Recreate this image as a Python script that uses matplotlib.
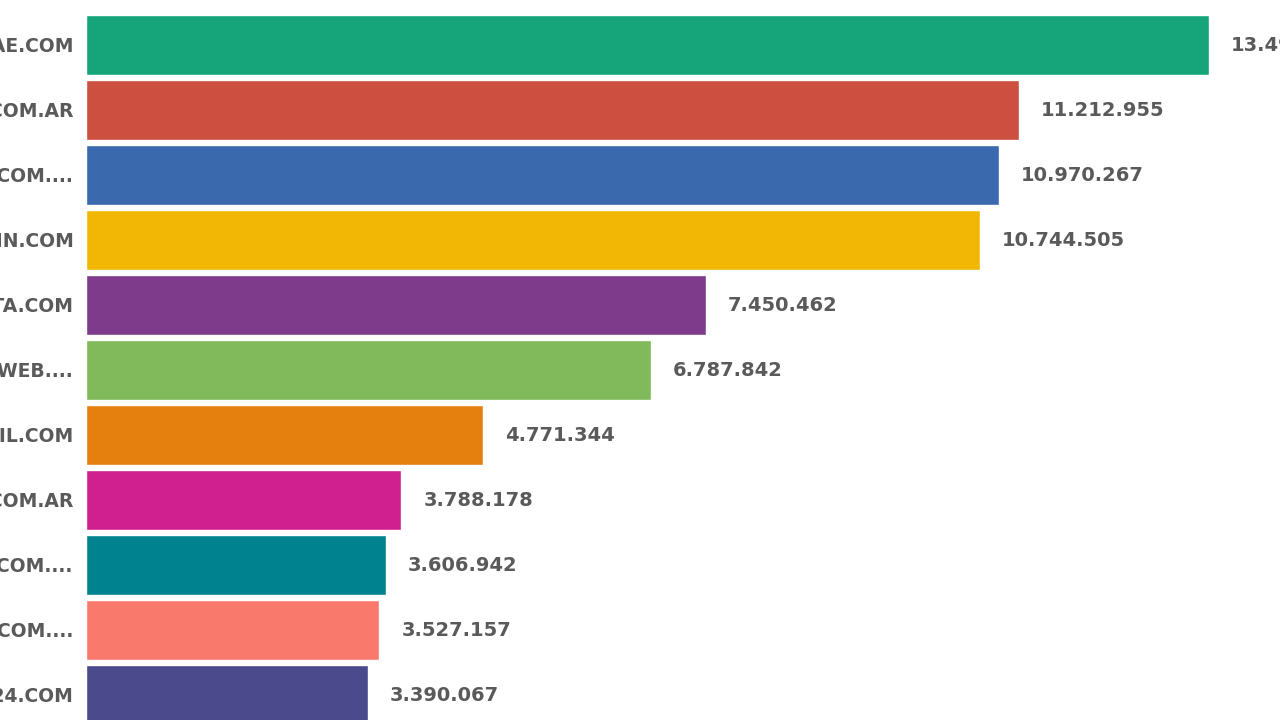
import matplotlib.pyplot as plt

sites = ["INFOBAE.COM", "LANACION.COM.AR", "TODONOTICIAS.COM....", "CLARIN.COM",
         "CRONISTA.COM", "ELDESTAPEWEB....", "PERFIL.COM", "PAGINA12.COM.AR",
         "AMBITO.COM....", "MINUTOUNO.COM....", "A24.COM"]
visits = [13496210, 11212955, 10970267, 10744505, 7450462, 6787842,
          4771344, 3788178, 3606942, 3527157, 3390067]
colors = ["#16a57a", "#cc4f3f", "#3a69ae", "#f2b705", "#7e3b8c", "#80ba5a",
          "#e5800f", "#d01f8f", "#00828f", "#f97a6d", "#4b4a8c"]


def fmt(v):
    return f"{v:,}".replace(",", ".")


plt.rcParams['font.family'] = ['DejaVu Sans']

fig = plt.figure(figsize=(12.8, 7.2), dpi=100)
ax = fig.add_axes([86 / 1280, 0, 1194 / 1280, 1])

pos = list(range(len(sites)))
ax.barh(pos, visits, height=0.93, color=colors, edgecolor="white", linewidth=1)

for p, v in zip(pos, visits):
    ax.annotate(fmt(v), (v, p), xytext=(22, -1), textcoords="offset pixels",
                va="center", ha="left", fontsize=14, fontweight="bold",
                color="#5a5a5a", annotation_clip=False)

ax.set_xlim(0, 14.35e6)
ax.set_ylim(10.385, -0.692)
ax.set_yticks(pos)
ax.set_yticklabels(sites, fontsize=13.5, fontweight="bold", color="#5a5a5a")
ax.tick_params(axis="y", length=0, pad=9)
ax.set_xticks([])
for s in ax.spines.values():
    s.set_visible(False)

fig.savefig("out.png", dpi=100)
